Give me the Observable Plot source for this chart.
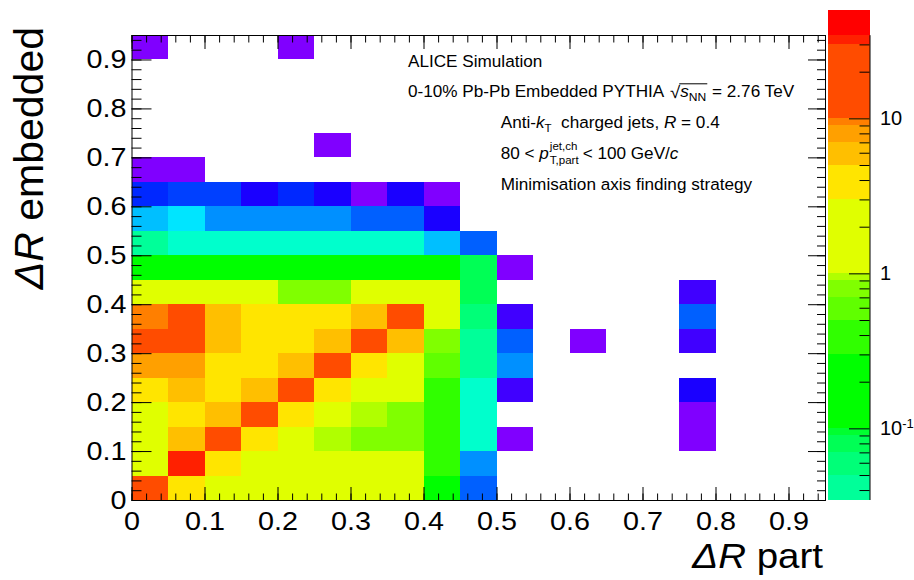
<!DOCTYPE html>
<html>
<head>
<meta charset="utf-8">
<script src="https://cdn.jsdelivr.net/npm/d3@7"></script>
<script src="https://cdn.jsdelivr.net/npm/@observablehq/plot@0.6"></script>
<style>
  body { margin: 0; background: #fff; }
  #chart { position: relative; width: 914px; height: 580px; overflow: hidden; }
  #chart svg { position: absolute; top: 0; }
</style>
</head>
<body>
<div id="chart"></div>
<script>
// ---------------------------------------------------------------------------
// Response matrix: ΔR (particle level) vs ΔR (embedded), 0.05 wide bins.
// Each row holds one ΔR-embedded bin; entries are indexed by ΔR-part bin.
// ---------------------------------------------------------------------------
const binEdges = [0, 0.05, 0.1, 0.15, 0.2, 0.25, 0.3, 0.35, 0.4, 0.45, 0.5,
                  0.55, 0.6, 0.65, 0.7, 0.75, 0.8, 0.85, 0.9, 0.95];
const N = null;

const row000 = [15, 4, 2, 2, 2, 2, 2, 2, 0.2, 0.004];
const row005 = [2, 32, 4, 2, 2, 2, 2, 2, 0.4, 0.006];
const row010 = [2, 6, 15, 4, 2, 0.95, 0.8, 0.8, 0.4, 0.02, 0.0004, N, N, N, N, 0.0004];
const row015 = [2, 4, 6, 15, 4, 2, 0.95, 0.8, 0.4, 0.02, N, N, N, N, N, 0.0004];
const row020 = [4, 6, 4, 6, 15, 4, 2, 2, 0.4, 0.02, 0.0006, N, N, N, N, 0.0008];
const row025 = [8, 8, 4, 4, 6, 15, 4, 2, 0.6, 0.04, 0.006];
const row030 = [15, 15, 6, 4, 4, 6, 15, 6, 0.8, 0.04, 0.004, N, 0.0004, N, N, 0.0006];
const row035 = [9.5, 15, 6, 4, 4, 4, 6, 15, 2, 0.06, 0.0006, N, N, N, N, 0.004];
const row040 = [2, 2, 2, 2, 0.8, 0.8, 2, 2, 2, 0.08, N, N, N, N, N, 0.0006];
const row045 = [0.2, 0.2, 0.2, 0.2, 0.2, 0.2, 0.2, 0.2, 0.2, 0.08, 0.0004];
const row050 = [0.04, 0.02, 0.02, 0.02, 0.02, 0.02, 0.02, 0.02, 0.008, 0.004];
const row055 = [0.008, 0.0095, 0.006, 0.006, 0.006, 0.006, 0.004, 0.004, 0.0008];
const row060 = [0.00095, 0.002, 0.002, 0.0008, 0.00095, 0.0008, 0.0004, 0.0008, 0.0004];
const row065 = [0.0004, 0.0004];
const row070 = [N, N, N, N, N, 0.0004];
const row075 = [];
const row080 = [];
const row085 = [];
const row090 = [0.0004, N, N, N, 0.0004];

const rowsByEmbedded = [row000, row005, row010, row015, row020, row025, row030,
  row035, row040, row045, row050, row055, row060, row065, row070, row075,
  row080, row085, row090];

// Contour levels of the z axis and the palette colour of each band
const contourLevels = [0.0005, 0.0007, 0.0009, 0.001, 0.003, 0.005, 0.007, 0.009,
  0.01, 0.03, 0.05, 0.07, 0.09, 0.1, 0.3, 0.5, 0.7, 0.9, 1, 3, 5, 7, 9, 10, 30];
const contourColors = ["#8000ff", "#4000ff", "#1a00ff", "#0028ff", "#0040ff",
  "#0060ff", "#0090ff", "#00bfff", "#00e5ff", "#00ffcc", "#00ff99", "#00ff78",
  "#00ff55", "#00ff30", "#00ff00", "#30ff00", "#60ff00", "#80ff00", "#b0ff00",
  "#e0ff00", "#ffe500", "#ffbf00", "#ffa000", "#ff7f00", "#ff4c00", "#ff2000"];
const overflowColor = "#ff0000";
const zBottom = 0.0345, zAxisMax = 34.4, zTop = 50;

// Axis ticks
const xTickValues = [0, 0.1, 0.2, 0.3, 0.4, 0.5, 0.6, 0.7, 0.8, 0.9];
const yTickValues = [0, 0.1, 0.2, 0.3, 0.4, 0.5, 0.6, 0.7, 0.8, 0.9];
const minorTickValues = d3.range(48).map(i => +(i * 0.02).toFixed(2));
const zMajorTicks = [0.1, 1, 10];
const zMinorTicks = [0.04, 0.05, 0.06, 0.07, 0.08, 0.09, 0.2, 0.3, 0.4, 0.5, 0.6,
  0.7, 0.8, 0.9, 2, 3, 4, 5, 6, 7, 8, 9, 20, 30];
const zTickLabels = [{value: 0.1, base: "10", exp: "-1"}, {value: 1, base: "1"}, {value: 10, base: "10"}];

// ---------------------------------------------------------------------------
const FONT = "'Liberation Sans', Arial, Helvetica, sans-serif";
const W = 914, H = 580;
const M = {left: 131.5, right: 89, top: 35, bottom: 80};
const innerW = W - M.left - M.right, innerH = H - M.top - M.bottom;

const cells = [];
rowsByEmbedded.forEach((row, j) => row.forEach((v, i) => {
  if (v != null) cells.push({x1: binEdges[i], x2: binEdges[i + 1], y1: binEdges[j], y2: binEdges[j + 1], value: v});
}));

const fmt = d => d === 0 ? "0" : d3.format(".1f")(d);

const main = Plot.plot({
  width: W, height: H,
  marginLeft: M.left, marginRight: M.right, marginTop: M.top, marginBottom: M.bottom,
  style: {fontFamily: FONT, fontSize: "25px", color: "black", background: "white"},
  x: {domain: [0, 0.95], label: null},
  y: {domain: [0, 0.95], label: null},
  color: {type: "threshold", domain: contourLevels, range: contourColors},
  marks: [
    Plot.rect(cells, {x1: "x1", x2: "x2", y1: "y1", y2: "y2", fill: "value", shapeRendering: "crispEdges"}),
    Plot.frame({stroke: "black", strokeWidth: 1}),
    // ticks drawn inside the frame on all four sides
    Plot.ruleX(xTickValues, {insetTop: innerH - 13, stroke: "black"}),
    Plot.ruleX(minorTickValues, {insetTop: innerH - 6.5, stroke: "black"}),
    Plot.ruleX(xTickValues, {insetBottom: innerH - 14, stroke: "black"}),
    Plot.ruleX(minorTickValues, {insetBottom: innerH - 7.5, stroke: "black"}),
    Plot.ruleY(yTickValues, {insetRight: innerW - 20, stroke: "black"}),
    Plot.ruleY(minorTickValues, {insetRight: innerW - 10, stroke: "black"}),
    Plot.ruleY(yTickValues, {insetLeft: innerW - 17, stroke: "black"}),
    Plot.ruleY(minorTickValues, {insetLeft: innerW - 8, stroke: "black"}),
    Plot.axisX(xTickValues, {anchor: "bottom", tickSize: 0, tickPadding: 11.5, tickFormat: fmt, label: null}),
    Plot.axisY(yTickValues, {anchor: "left", tickSize: 0, tickPadding: 5.5, tickFormat: fmt, label: null})
  ]
});

// Horizontal stretch of text glyphs, keeping each label's anchor point fixed
function stretch(el, k) {
  const tr = el.getAttribute("transform");
  if (tr && tr.includes("translate")) {
    el.setAttribute("transform", tr + ` scale(${k},1)`);
  } else {
    const x = +(el.getAttribute("x") || 0), y = +(el.getAttribute("y") || 0);
    el.setAttribute("transform", `translate(${x},${y}) scale(${k},1)` + (tr ? " " + tr : ""));
    el.setAttribute("x", 0); el.setAttribute("y", 0);
  }
}
main.querySelectorAll("text").forEach(t => stretch(t, 1.15));
main.style.left = "0px";
document.getElementById("chart").appendChild(main);

// ---------------------------------------------------------------------------
// Colour palette axis on the right
// ---------------------------------------------------------------------------
const colorScale = main.scale("color");
const bandEdges = [zBottom, ...contourLevels.filter(l => l > zBottom && l < zAxisMax), zAxisMax];
const bands = d3.pairs(bandEdges).map(([lo, hi]) => ({lo, hi, color: colorScale.apply(Math.sqrt(lo * hi))}));
bands.push({lo: zAxisMax, hi: zTop, color: overflowColor});

const CB = {left: 28, right: 44.5, top: 10, bottom: 80, width: 114};
const cbInnerW = CB.width - CB.left - CB.right;
const cb = Plot.plot({
  width: CB.width, height: H,
  marginLeft: CB.left, marginRight: CB.right, marginTop: CB.top, marginBottom: CB.bottom,
  style: {fontFamily: FONT, color: "black", background: "transparent", overflow: "visible"},
  x: {domain: [0, 1], axis: null},
  y: {type: "log", domain: [zBottom, zTop], axis: null},
  color: {type: "identity"},
  marks: [
    Plot.rect(bands, {x1: () => 0, x2: () => 1, y1: "lo", y2: "hi", fill: "color", shapeRendering: "crispEdges"}),
    Plot.ruleX([1], {y1: zBottom, y2: zAxisMax, stroke: "black"}),
    Plot.ruleY(zMajorTicks, {insetLeft: cbInnerW - 20.5, stroke: "black"}),
    Plot.ruleY(zMinorTicks, {insetLeft: cbInnerW - 10, stroke: "black"})
  ]
});
cb.style.left = (W - CB.width) + "px";
document.getElementById("chart").appendChild(cb);

const zy = cb.scale("y");
const zLab = d3.select(cb).append("g").attr("font-family", FONT).attr("font-size", 20)
  .attr("fill", "black").attr("text-anchor", "start");
zTickLabels.forEach(d => {
  const t = zLab.append("text")
    .attr("transform", `translate(${CB.width - CB.right + 10.5},${zy.apply(d.value)})`)
    .attr("dy", "0.35em");
  t.append("tspan").text(d.base);
  if (d.exp) t.append("tspan").attr("font-size", 13).attr("dy", -7).text(d.exp);
});

// ---------------------------------------------------------------------------
// Axis titles and the text block
// ---------------------------------------------------------------------------
const svg = d3.select(main);

const yTitle = svg.append("text")
  .attr("transform", "translate(43,27) rotate(-90)")
  .attr("text-anchor", "end").attr("font-family", FONT).attr("font-size", 41).attr("fill", "black");
yTitle.append("tspan").attr("font-style", "italic").text("\u0394R");
yTitle.append("tspan").text("\u00a0embedded");

const xTitle = svg.append("text")
  .attr("transform", "translate(823,568) scale(1.1,1)")
  .attr("text-anchor", "end").attr("font-family", FONT).attr("font-size", 35).attr("fill", "black");
xTitle.append("tspan").attr("font-style", "italic").text("\u0394R");
xTitle.append("tspan").text("\u00a0part");

const ann = svg.append("g").attr("font-family", FONT).attr("fill", "black").attr("text-anchor", "start");
const K = 1.1, FS = 15.6, SS = 10.5;
function put(x, y, parts, size = FS) {
  const t = ann.append("text").attr("transform", `translate(${x},${y}) scale(${K},1)`).attr("font-size", size);
  let shift = 0;
  for (const p of parts) {
    const s = t.append("tspan").text(p.text);
    if (p.italic) s.attr("font-style", "italic");
    if (p.size) s.attr("font-size", p.size);
    const dy = (p.dy || 0) - shift;
    if (dy) s.attr("dy", dy);
    shift = p.dy || 0;
  }
  return x + t.node().getComputedTextLength() * K;
}

const L1 = 66.5, L2 = 97.3, L3 = 128, L4 = 158.8, L5 = 189.5;
const XA = 408, XB = 500.7;

put(XA, L1, [{text: "ALICE Simulation"}]);

const xr0 = put(XA, L2, [{text: "0-10% Pb-Pb Embedded PYTHIA\u00a0"}]);
const xr1 = put(xr0 + 1, L2 + 1, [{text: "\u221a"}], 17);
const xr2 = put(xr1, L2, [{text: "s", italic: true}, {text: "NN", size: 11, dy: 3.5}]);
ann.append("line").attr("x1", xr1 - 1).attr("x2", xr2 + 1)
  .attr("y1", L2 - 13.5).attr("y2", L2 - 13.5).attr("stroke", "black").attr("stroke-width", 1);
put(xr2 + 1, L2, [{text: "\u00a0= 2.76 TeV"}]);

put(XB, L3, [{text: "Anti-"}, {text: "k", italic: true}, {text: "T", size: SS, dy: 4},
  {text: "\u00a0\u00a0charged jets,\u00a0"}, {text: "R", italic: true}, {text: "\u00a0= 0.4"}]);

const xp = put(XB, L4, [{text: "80 <\u00a0"}, {text: "p", italic: true}]);
const xs1 = put(xp + 1, L4 - 9, [{text: "jet,ch"}], SS);
const xs2 = put(xp + 1, L4 + 5.5, [{text: "T,part"}], SS);
put(Math.max(xs1, xs2) + 4, L4, [{text: "< 100 GeV/"}, {text: "c", italic: true}]);

put(XB, L5, [{text: "Minimisation axis finding strategy"}]);
</script>
</body>
</html>
